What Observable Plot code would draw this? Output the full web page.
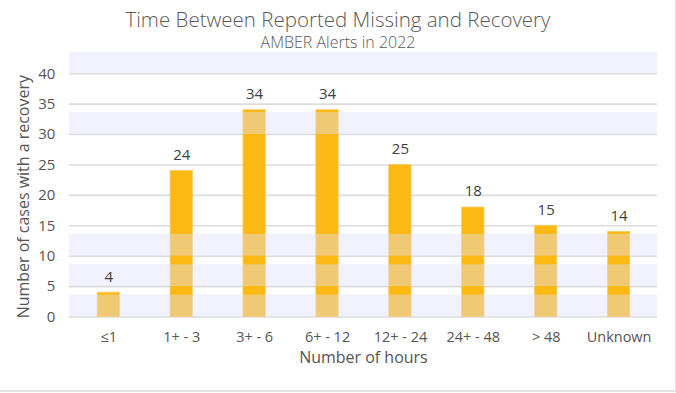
<!DOCTYPE html>
<html>
<head>
<meta charset="utf-8">
<script src="https://cdn.jsdelivr.net/npm/d3@7"></script>
<script src="https://cdn.jsdelivr.net/npm/@observablehq/plot@0.6"></script>
<style>
  html, body { margin: 0; padding: 0; background: #fff; }
  #wrap { position: relative; width: 675px; height: 390px; border-right: 1px solid #e2e2e2; border-bottom: 2px solid #e2e2e2; overflow: hidden; font-family: "Open Sans", sans-serif; }
  #title { position: absolute; left: 0; width: 676px; top: 5px; text-align: center; font-size: 20.5px; color: #595959; font-weight: 300; }
  #subtitle { position: absolute; left: 0; width: 676px; top: 31px; text-align: center; font-size: 16px; color: #595959; font-weight: 300; }
  #chart { position: absolute; left: 0; top: 0; }
</style>
</head>
<body>
<div id="wrap">
  <div id="chart"></div>
  <div id="title">Time Between Reported Missing and Recovery</div>
  <div id="subtitle">AMBER Alerts in 2022</div>
</div>
<script>
const categories = ["≤1", "1+ - 3", "3+ - 6", "6+ - 12", "12+ - 24", "24+ - 48", "> 48", "Unknown"];
const values = [4, 24, 34, 34, 25, 18, 15, 14];
const yTicks = [0, 5, 10, 15, 20, 25, 30, 35, 40];
const bandStarts = [0, 5, 10, 30, 40];
const bandEnds = [3.6, 8.6, 13.6, 33.6, 43.5];

const data = categories.map((c, i) => ({cat: c, value: values[i]}));
const bands = bandStarts.map((s, i) => ({y1: s, y2: bandEnds[i]}));

const chart = Plot.plot({
  width: 676,
  height: 393,
  marginTop: 52,
  marginBottom: 76,
  marginLeft: 69,
  marginRight: 18,
  style: {fontFamily: "'Open Sans', sans-serif", background: "transparent"},
  x: {domain: categories, padding: 0, label: null},
  y: {domain: [0, 43.5], label: null},
  marks: [
    Plot.ruleY(yTicks, {stroke: "#dcdcdc", strokeWidth: 1.6}),
    Plot.barY(data, {x: "cat", y: "value", fill: "#FDB913", stroke: "#f8cc6a", strokeWidth: 0.8, insetLeft: 25.3, insetRight: 25.3}),
    Plot.rectY(bands, {y1: "y1", y2: "y2", fill: "rgb(221,224,250)", fillOpacity: 0.42}),
    Plot.text(data, {x: "cat", y: "value", text: d => String(d.value), dy: -16, fill: "#404040", fontSize: 15}),
    Plot.axisY({ticks: yTicks, tickSize: 0, tickPadding: 14, fontSize: 15, color: "#555", label: null}),
    Plot.axisX({tickSize: 0, tickPadding: 15, fontSize: 14.5, color: "#555", label: null}),
    Plot.text(["Number of hours"], {frameAnchor: "bottom", dy: 46, fontSize: 16, fill: "#555"}),
    Plot.text(["Number of cases with a recovery"], {frameAnchor: "left", textAnchor: "middle", dx: -46, dy: 12, rotate: -90, fontSize: 16, fill: "#555"})
  ]
});
document.getElementById("chart").appendChild(chart);
</script>
</body>
</html>
